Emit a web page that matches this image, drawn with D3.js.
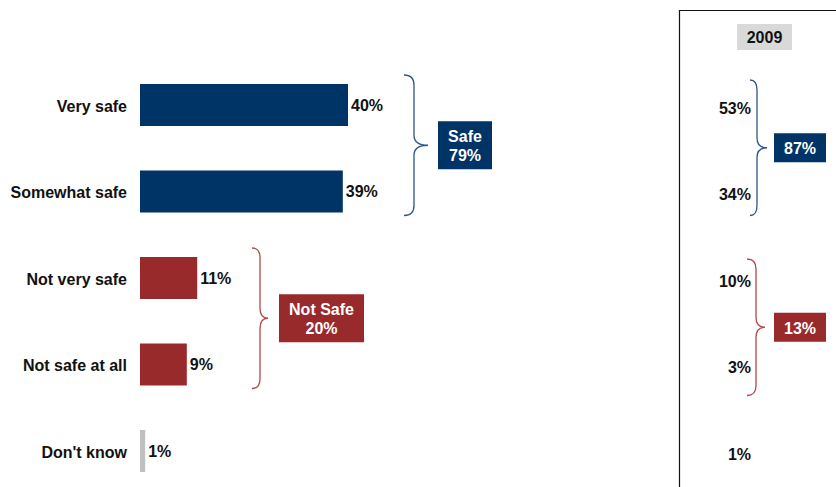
<!DOCTYPE html>
<html>
<head>
<meta charset="utf-8">
<script src="https://cdn.jsdelivr.net/npm/d3@7"></script>
<style>
  html, body { margin: 0; padding: 0; background: #fff; }
  svg { display: block; font-family: "Liberation Sans", Arial, sans-serif; }
</style>
</head>
<body>
<svg id="chart" width="836" height="487"></svg>
<script>
// Survey responses: how safe do you feel
const categories = ["Very safe", "Somewhat safe", "Not very safe", "Not safe at all", "Don't know"];
const current = [40, 39, 11, 9, 1];
const previous = [53, 34, 10, 3, 1];
const previousYear = "2009";
const groupNames = ["Safe", "Not Safe"];
const groupMembers = [["Very safe", "Somewhat safe"], ["Not very safe", "Not safe at all"]];
const groupCurrent = [79, 20];
const groupPrevious = [87, 13];

const BLUE = "#003366", RED = "#992a2c", GREY = "#c0c0c0";
const barColor = c => c === "Don't know" ? GREY : (groupMembers[0].includes(c) ? BLUE : RED);
const braceColor = ["#2f5488", "#b5484a"];
const FS = 16;

const svg = d3.select("#chart");
const x = d3.scaleLinear().domain([0, 100]).range([140, 660]);
const y = d3.scalePoint().domain(categories).range([105, 451]);
const barH = 42;

// category labels
svg.append("g").selectAll("text").data(categories).join("text")
  .attr("x", 127).attr("y", d => y(d) + 1).attr("dy", "0.35em")
  .attr("text-anchor", "end").attr("font-weight", "bold").attr("font-size", FS)
  .attr("fill", "#111").text(d => d);

// bars
svg.append("g").selectAll("rect").data(categories).join("rect")
  .attr("x", x(0)).attr("y", d => y(d) - barH / 2)
  .attr("width", (d, i) => x(current[i]) - x(0)).attr("height", barH)
  .attr("fill", barColor);

// value labels
svg.append("g").selectAll("text").data(categories).join("text")
  .attr("x", (d, i) => x(current[i]) + 3).attr("y", d => y(d)).attr("dy", "0.35em")
  .attr("font-weight", "bold").attr("font-size", FS).attr("fill", "#111")
  .text((d, i) => current[i] + "%");

function bracePath(xl, xm, xt, y0, y1) {
  const ty = (y0 + y1) / 2, r = Math.min(10, (y1 - y0) / 4);
  return `M${xl},${y0} Q${xm},${y0} ${xm},${y0 + r} L${xm},${ty - r} Q${xm},${ty} ${xt},${ty}` +
         ` Q${xm},${ty} ${xm},${ty + r} L${xm},${y1 - r} Q${xm},${y1} ${xl},${y1}`;
}

// group braces and totals, current survey
const leftBrace = [
  { xl: 404, xm: 414, xt: 428, boxX: 438, boxW: 54, boxH: 48 },
  { xl: 252, xm: 260, xt: 268, boxX: 279, boxW: 85, boxH: 48 }
];
groupMembers.forEach((m, gi) => {
  const b = leftBrace[gi];
  const y0 = y(m[0]) - 30, y1 = y(m[m.length - 1]) + 24;
  const ty = (y0 + y1) / 2;
  svg.append("path").attr("d", bracePath(b.xl, b.xm, b.xt, y0, y1))
    .attr("fill", "none").attr("stroke", braceColor[gi]).attr("stroke-width", 1.3);
  svg.append("rect").attr("x", b.boxX).attr("y", ty - b.boxH / 2)
    .attr("width", b.boxW).attr("height", b.boxH).attr("fill", gi === 0 ? BLUE : RED);
  const t = svg.append("text").attr("x", b.boxX + b.boxW / 2).attr("y", ty + 1)
    .attr("text-anchor", "middle").attr("font-weight", "bold").attr("font-size", FS).attr("fill", "#fff");
  t.append("tspan").attr("x", b.boxX + b.boxW / 2).attr("dy", "-0.25em").text(groupNames[gi]);
  t.append("tspan").attr("x", b.boxX + b.boxW / 2).attr("dy", "1.15em").text(groupCurrent[gi] + "%");
});

// comparison panel
svg.append("path").attr("d", "M679.5,487 L679.5,10.5 L836,10.5")
  .attr("fill", "none").attr("stroke", "#111").attr("stroke-width", 1.2);
svg.append("rect").attr("x", 737).attr("y", 24).attr("width", 55).attr("height", 26).attr("fill", "#d9d9d9");
svg.append("text").attr("x", 764.5).attr("y", 37).attr("dy", "0.35em").attr("text-anchor", "middle")
  .attr("font-weight", "bold").attr("font-size", FS).attr("fill", "#111").text(previousYear);

svg.append("g").selectAll("text").data(categories).join("text")
  .attr("x", 751).attr("y", d => y(d) + 3).attr("dy", "0.35em")
  .attr("text-anchor", "end").attr("font-weight", "bold").attr("font-size", FS).attr("fill", "#111")
  .text((d, i) => previous[i] + "%");

const rightBrace = [
  { xl: 750, xm: 757, xt: 767, top: -25, bot: 24 },
  { xl: 747, xm: 756, xt: 765, top: -19, bot: 31 }
];
groupMembers.forEach((m, gi) => {
  const b = rightBrace[gi];
  const y0 = y(m[0]) + b.top, y1 = y(m[m.length - 1]) + b.bot;
  const ty = (y0 + y1) / 2;
  svg.append("path").attr("d", bracePath(b.xl, b.xm, b.xt, y0, y1))
    .attr("fill", "none").attr("stroke", braceColor[gi]).attr("stroke-width", 1.3);
  svg.append("rect").attr("x", 774).attr("y", ty - 14.5).attr("width", 52).attr("height", 29)
    .attr("fill", gi === 0 ? BLUE : RED);
  svg.append("text").attr("x", 800).attr("y", ty + 1).attr("dy", "0.35em").attr("text-anchor", "middle")
    .attr("font-weight", "bold").attr("font-size", FS).attr("fill", "#fff").text(groupPrevious[gi] + "%");
});
</script>
</body>
</html>
